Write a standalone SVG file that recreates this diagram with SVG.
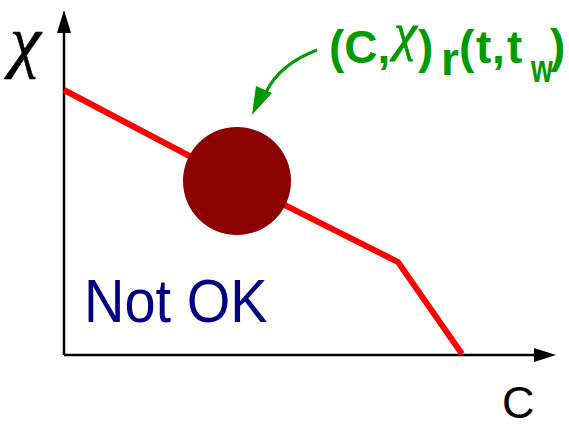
<svg xmlns="http://www.w3.org/2000/svg" width="569" height="424" viewBox="0 0 569 424">
<style>
.axis{stroke:#000;stroke-width:2.5;fill:none}
.curve{stroke:#ff0000;stroke-width:6;fill:none;stroke-linejoin:miter}
.green{fill:#009900;font-family:"Liberation Sans",Arial,sans-serif;font-weight:bold;font-size:46px}
.greek{font-family:"Liberation Serif",serif;font-style:italic;font-weight:normal}
</style>
<rect width="569" height="424" fill="#fff"/>
<g id="axes">
<line class="axis" x1="64" y1="355" x2="64" y2="32"/>
<path d="M57,33 L64,10 L71,33 Z" fill="#000"/>
<line class="axis" x1="64" y1="355" x2="535" y2="355"/>
<path d="M534,348 L556,355 L534,362 Z" fill="#000"/>
<text x="10" y="64" font-family="Liberation Serif,serif" font-style="italic" font-size="70" fill="#000" stroke="#000" stroke-width="0.6">χ</text>
<text x="502" y="418" font-family="Liberation Sans,Arial,sans-serif" font-size="45" fill="#000">C</text>
</g>
<g id="connectors">
<polyline class="curve" points="64,90 237,181 398,262 462,354"/>
<path d="M317,50 Q280,64 266,92" stroke="#009900" stroke-width="3" fill="none"/>
<path d="M256,86 L252,115 L272,93 Z" fill="#009900"/>
</g>
<g id="point">
<circle cx="237" cy="181" r="54" fill="#8b0000"/>
</g>
<g id="label">
<text class="green" y="63"><tspan x="329">(C,</tspan><tspan class="greek" x="394" y="50" font-size="52" stroke="#009900" stroke-width="0.8">χ</tspan><tspan x="418" y="63">)</tspan><tspan x="441" y="75">r</tspan><tspan x="459" y="63">(</tspan><tspan x="476">t</tspan><tspan x="492">,</tspan><tspan x="507">t</tspan><tspan x="550" y="62">)</tspan></text>
<text class="green" style="font-size:28px" transform="translate(531,82) scale(1,1.4)">w</text>
</g>
<g id="notok">
<text font-family="Liberation Sans,Arial,sans-serif" font-size="56" fill="#000080" transform="translate(84,322) scale(1,1.1)">Not OK</text>
</g>
</svg>
